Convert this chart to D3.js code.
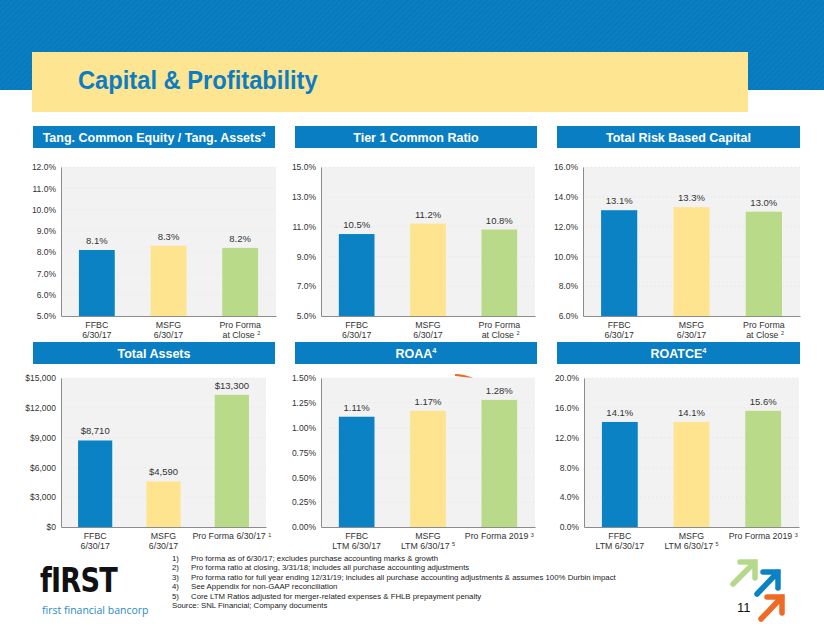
<!DOCTYPE html>
<html><head><meta charset="utf-8">
<script src="https://cdn.jsdelivr.net/npm/d3@7/dist/d3.min.js"></script>
<style>
html,body{margin:0;padding:0;background:#fff;}
svg{display:block;font-family:"Liberation Sans",Arial,sans-serif;}
</style></head>
<body>
<svg id="c" width="824" height="637"></svg>
<script>
// ---------- DATA ----------
const capitalCategories = ["FFBC\n6/30/17", "MSFG\n6/30/17", "Pro Forma\n at Close ^2"];
const assetCategories   = ["FFBC\n6/30/17", "MSFG\n6/30/17", "Pro Forma 6/30/17 ^1"];
const returnCategories  = ["FFBC\nLTM 6/30/17", "MSFG\nLTM 6/30/17 ^5", "Pro Forma 2019 ^3"];

const tceValues    = [8.1, 8.3, 8.2];
const tier1Values  = [10.5, 11.2, 10.8];
const trbcValues   = [13.1, 13.3, 13.0];
const assetValues  = [8710, 4590, 13300];
const roaaValues   = [1.11, 1.17, 1.28];
const roatceValues = [14.1, 14.1, 15.6];

const tceTicks    = [5, 6, 7, 8, 9, 10, 11, 12];
const tier1Ticks  = [5, 7, 9, 11, 13, 15];
const trbcTicks   = [6, 8, 10, 12, 14, 16];
const assetTicks  = [0, 3000, 6000, 9000, 12000, 15000];
const roaaTicks   = [0, 0.25, 0.5, 0.75, 1.0, 1.25, 1.5];
const roatceTicks = [0, 4, 8, 12, 16, 20];

const panelTitles = [
  ["Tang. Common Equity / Tang. Assets", "4"],
  ["Tier 1 Common Ratio", ""],
  ["Total Risk Based Capital", ""],
  ["Total Assets", ""],
  ["ROAA", "4"],
  ["ROATCE", "4"]
];
const footnotes = [
  ["1)", "Pro forma as of 6/30/17; excludes purchase accounting marks & growth"],
  ["2)", "Pro forma ratio at closing, 3/31/18; includes all purchase accounting adjustments"],
  ["3)", "Pro forma ratio for full year ending 12/31/19; includes all purchase accounting adjustments & assumes 100% Durbin impact"],
  ["4)", "See Appendix for non-GAAP reconciliation"],
  ["5)", "Core LTM Ratios adjusted for merger-related expenses & FHLB prepayment penalty"]
];
const sourceNote = "Source: SNL Financial; Company documents";
const pageTitle = "Capital & Profitability";
const pageNumber = "11";

// ---------- STYLE ----------
const barColors = ["#0a82c4", "#fee48f", "#b8da89"];
const headerBlue = "#0a7ec2";
const svg = d3.select("#c");

// header background with diagonal stripes
const defs = svg.append("defs");
const pat = defs.append("pattern").attr("id","stripes").attr("patternUnits","userSpaceOnUse")
  .attr("width",4).attr("height",4).attr("patternTransform","rotate(45)");
pat.append("rect").attr("width",4).attr("height",4).attr("fill","#0a7ec3");
pat.append("rect").attr("width",1.2).attr("height",4).attr("fill","#0776b9");
svg.append("rect").attr("x",0).attr("y",0).attr("width",824).attr("height",90).attr("fill","url(#stripes)");
svg.append("rect").attr("x",32).attr("y",52).attr("width",716).attr("height",60).attr("fill","#fee592");
svg.append("text").attr("transform","translate(78,89) scale(0.93,1)").text(pageTitle)
  .attr("fill","#0c7dc2").attr("font-weight","bold").attr("font-size",25.5);

const fmt1 = d => d.toFixed(1) + "%";
const fmt2 = d => d.toFixed(2) + "%";
const fmtD = d => "$" + d3.format(",")(d);

const panels = [
  {title: panelTitles[0], values: tceValues,    ticks: tceTicks,    cats: capitalCategories, tf: fmt1, vf: fmt1, bar:[33,275,126,148], plot:[61,276,167,316]},
  {title: panelTitles[1], values: tier1Values,  ticks: tier1Ticks,  cats: capitalCategories, tf: fmt1, vf: fmt1, bar:[295,537,126,148], plot:[321,535,167,316]},
  {title: panelTitles[2], values: trbcValues,   ticks: trbcTicks,   cats: capitalCategories, tf: fmt1, vf: fmt1, bar:[557,800,126,148], plot:[583,800,167,316]},
  {title: panelTitles[3], values: assetValues,  ticks: assetTicks,  cats: assetCategories,   tf: fmtD, vf: fmtD, bar:[33,275,342,364], plot:[61,266,378,527]},
  {title: panelTitles[4], values: roaaValues,   ticks: roaaTicks,   cats: returnCategories,  tf: fmt2, vf: fmt2, bar:[295,537,342,364], plot:[321,535,378,527]},
  {title: panelTitles[5], values: roatceValues, ticks: roatceTicks, cats: returnCategories,  tf: fmt1, vf: fmt1, bar:[557,800,342,364], plot:[584,799,378,527]}
];

function addLabel(sel, str, supSize) {
  const m = str.split("^");
  sel.append("tspan").text(m[0]);
  if (m.length > 1) sel.append("tspan").attr("font-size", supSize).attr("dy", -2.5).text(m[1]);
}

panels.forEach(p => {
  const g = svg.append("g");
  const [bx0,bx1,by0,by1] = p.bar;
  g.append("rect").attr("x",bx0).attr("y",by0).attr("width",bx1-bx0).attr("height",by1-by0).attr("fill",headerBlue);
  const t = g.append("text").attr("x",(bx0+bx1)/2).attr("y",by1-6).attr("text-anchor","middle")
    .attr("fill","#fff").attr("font-weight","bold").attr("font-size",12.5);
  t.append("tspan").text(p.title[0]);
  if (p.title[1]) t.append("tspan").attr("font-size",7.5).attr("dy",-5).text(p.title[1]);

  const [x0,x1,y0,y1] = p.plot;
  g.append("rect").attr("x",x0).attr("y",y0).attr("width",x1-x0).attr("height",y1-y0).attr("fill","#f2f2f2");
  const y = d3.scaleLinear().domain([p.ticks[0], p.ticks[p.ticks.length-1]]).range([y1, y0]);
  const x = d3.scaleBand().domain(p.cats).range([x0, x1]).paddingInner(0.5).paddingOuter(0.25);

  // faint dotted grid
  g.append("g").selectAll("line").data(p.ticks.slice(1)).join("line")
    .attr("x1",x0).attr("x2",x1).attr("y1",d=>y(d)).attr("y2",d=>y(d))
    .attr("stroke","#dcdcdc").attr("stroke-width",0.6).attr("stroke-dasharray","1,3");

  g.append("g").selectAll("rect").data(p.values).join("rect")
    .attr("x",(d,i)=>x(p.cats[i])).attr("width",x.bandwidth())
    .attr("y",d=>y(d)).attr("height",d=>y1-y(d)).attr("fill",(d,i)=>barColors[i]);

  g.append("g").selectAll("text").data(p.values).join("text")
    .attr("x",(d,i)=>x(p.cats[i])+x.bandwidth()/2).attr("y",d=>y(d)-6)
    .attr("text-anchor","middle").attr("font-size",9.5).attr("fill","#333").text(d=>p.vf(d));

  const ay = g.append("g").attr("transform",`translate(${x0},0)`)
    .call(d3.axisLeft(y).tickValues(p.ticks).tickFormat(p.tf).tickSize(0).tickPadding(5));
  ay.select(".domain").attr("stroke","#8c8c8c");
  ay.selectAll("text").attr("font-size",8.5).attr("fill","#333").style("font-family","'Liberation Sans',Arial,sans-serif");

  const ax = g.append("g").attr("transform",`translate(0,${y1})`)
    .call(d3.axisBottom(x).tickSize(0).tickSizeOuter(0).tickFormat(""));
  ax.select(".domain").attr("stroke","#8c8c8c");

  p.cats.forEach(c => {
    const lines = c.split("\n");
    lines.forEach((ln, li) => {
      const tt = g.append("text").attr("x", x(c)+x.bandwidth()/2).attr("y", y1 + 12 + li*9.5)
        .attr("text-anchor","middle").attr("font-size",8.8).attr("fill","#333").attr("xml:space","preserve");
      addLabel(tt, ln, 5.5);
    });
  });
});

// small orange mark in ROAA panel
svg.append("path").attr("d","M455,374 Q464,374 473,378 Q463,377 455,376 Z").attr("fill","#ef6a25");

// footnotes
const fn = svg.append("g").attr("font-size",7.8).attr("fill","#222");
footnotes.forEach((f,i) => {
  fn.append("text").attr("x",172).attr("y",561+i*9.4).text(f[0]);
  fn.append("text").attr("x",191).attr("y",561+i*9.4).text(f[1]);
});
fn.append("text").attr("x",172).attr("y",561+5*9.4).text(sourceNote);

// logo
svg.append("text").attr("transform","translate(40,592) scale(0.8,1)").text("fIRST").attr("font-size",34).attr("font-weight","900")
  .attr("fill","#111").attr("letter-spacing",-1).style("font-family","'DejaVu Sans',sans-serif");
svg.append("text").attr("x",42).attr("y",614).text("first financial bancorp").attr("font-size",10.5)
  .attr("fill","#2a8ac6").style("font-family","'Open Sans',sans-serif");

// page number
svg.append("text").attr("x",737).attr("y",612).text(pageNumber).attr("font-size",13).attr("fill","#111");

// arrows
const arrows = [
  {c:"#b5d98a", s:[733,584], e:[755,562]},
  {c:"#0a82c4", s:[757,594], e:[778,572]},
  {c:"#ef6a25", s:[761,619], e:[782,597]}
];
arrows.forEach(a => {
  const [sx,sy] = a.s, [ex,ey] = a.e;
  svg.append("path").attr("d",`M${sx},${sy}L${ex},${ey}M${ex-15},${ey}L${ex},${ey}L${ex},${ey+16}`)
    .attr("fill","none").attr("stroke",a.c).attr("stroke-width",5.5).attr("stroke-linecap","round").attr("stroke-linejoin","miter");
});
</script>
</body></html>
